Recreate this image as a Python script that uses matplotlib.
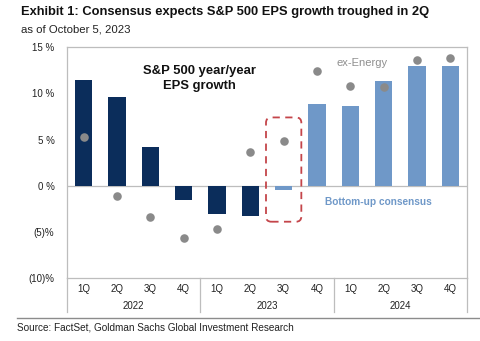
import matplotlib
matplotlib.use("Agg")
import matplotlib.pyplot as plt
from matplotlib.patches import FancyBboxPatch
from matplotlib.transforms import blended_transform_factory
import numpy as np

plt.rcParams['font.family'] = ['Liberation Sans', 'DejaVu Sans']

quarters = ["1Q", "2Q", "3Q", "4Q"] * 3
years = ["2022", "2023", "2024"]
eps_growth = [11.5, 9.6, 4.2, -1.5, -3.1, -3.3, -0.5, 8.9, 8.6, 11.4, 13.0, 13.0]
ex_energy = [5.3, -1.1, -3.4, -5.7, -4.7, 3.6, 4.8, 12.4, 10.8, 10.7, 13.6, 13.8]
n_actual = 6  # quarters already reported (1Q22-2Q23)
highlight = 6  # 3Q23
yticks = [15, 10, 5, 0, -5, -10]
ytick_labels = ["15 %", "10 %", "5 %", "0 %", "(5)%", "(10)%"]

dark_blue = "#0b2d5b"
light_blue = "#6f98c8"
dot_gray = "#8a8a8a"
frame_gray = "#bdbdbd"

fig = plt.figure(figsize=(4.81, 3.41), dpi=100)
ax = fig.add_axes([67 / 481, 1 - 278 / 341, 400 / 481, (278 - 47.3) / 341])

x = np.arange(len(eps_growth))
colors = [dark_blue if i < n_actual else light_blue for i in x]
ax.bar(x, eps_growth, width=0.52, color=colors, zorder=2)
ax.scatter(x, ex_energy, s=38, color=dot_gray, zorder=3, linewidths=0)
ax.axhline(0, color=frame_gray, lw=0.9, zorder=1)

ax.set_xlim(-0.5, len(x) - 0.5)
ax.set_ylim(-10, 15)
ax.set_yticks(yticks)
ax.set_yticklabels(ytick_labels)
ax.set_xticks([])
ax.tick_params(axis='y', length=0, labelsize=7, pad=9, colors="#222222")
for s in ax.spines.values():
    s.set_color(frame_gray)
    s.set_linewidth(0.9)

# dashed highlight around the latest quarter estimate
aspect = (400 / 12) / ((278 - 47.3) / 25)
box = FancyBboxPatch((highlight - 0.53, -3.9), 1.06, 11.3,
                     boxstyle="round,pad=0,rounding_size=0.16",
                     mutation_aspect=aspect,
                     fill=False, edgecolor="#c4454a", lw=1.3,
                     linestyle=(0, (4, 3)), zorder=4)
ax.add_patch(box)

ax.text(3.47, 11.6, "S&P 500 year/year\nEPS growth", ha="center", va="center",
        fontsize=9.4, fontweight="bold", color="#111111", linespacing=1.3)
ax.text(7.59, 13.3, "ex-Energy", ha="left", va="center", fontsize=8,
        color="#8f8f8f")
ax.text(7.24, -1.8, "Bottom-up consensus", ha="left", va="center", fontsize=7.3,
        fontweight="bold", color=light_blue)

# category table below the plot
tr = blended_transform_factory(ax.transData, ax.transAxes)
h = ax.get_position().height * 341
for i, q in enumerate(quarters):
    ax.text(i, -11 / h, q, transform=tr, ha="center", va="center",
            fontsize=7, color="#222222")
for j, yr in enumerate(years):
    ax.text(4 * j + 1.5, -28 / h, yr, transform=tr, ha="center", va="center",
            fontsize=7, color="#222222")
for b in [-0.5, 3.5, 7.5, 11.5]:
    ax.plot([b, b], [0, -33.5 / h], transform=tr, color=frame_gray, lw=0.9,
            clip_on=False)

fig.lines.append(plt.Line2D([17 / 481, 1.0], [1 - 317.7 / 341] * 2,
                            transform=fig.transFigure, color="#8c8c8c", lw=1.0))

fig.text(21 / 481, 1 - 12.5 / 341,
         "Exhibit 1: Consensus expects S&P 500 EPS growth troughed in 2Q",
         ha="left", va="center", fontsize=9.25, fontweight="bold", color="#111111")
fig.text(21 / 481, 1 - 29.5 / 341, "as of October 5, 2023", ha="left",
         va="center", fontsize=8.2, color="#222222")
fig.text(17 / 481, 1 - 327.5 / 341,
         "Source: FactSet, Goldman Sachs Global Investment Research",
         ha="left", va="center", fontsize=7.2, color="#222222")

fig.savefig("out.png", dpi=100)
